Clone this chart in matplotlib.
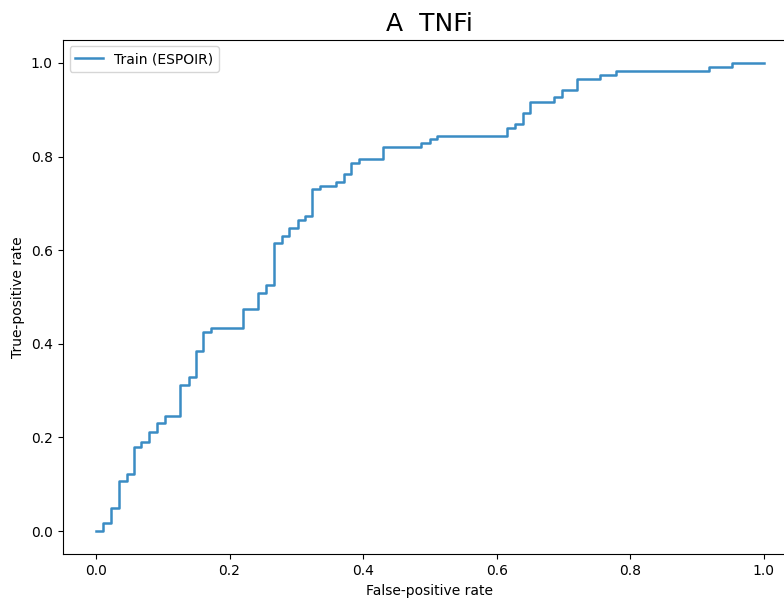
import matplotlib
matplotlib.use("Agg")
from matplotlib import pyplot as plt

# ROC corner points (jump x, new y)
fpr = [0.0, 0.010, 0.022, 0.034, 0.046, 0.057, 0.068, 0.080, 0.092, 0.104,
       0.126, 0.139, 0.150, 0.161, 0.173, 0.220, 0.243, 0.255, 0.266, 0.279,
       0.289, 0.302, 0.313, 0.324, 0.336, 0.359, 0.371, 0.382, 0.394, 0.430,
       0.487, 0.500, 0.511, 0.615, 0.627, 0.639, 0.650, 0.686, 0.698, 0.720,
       0.755, 0.779, 0.918, 0.953, 1.0]
tpr = [0.0, 0.017, 0.049, 0.107, 0.122, 0.180, 0.190, 0.212, 0.230, 0.246,
       0.312, 0.328, 0.385, 0.426, 0.434, 0.475, 0.509, 0.525, 0.615, 0.631,
       0.648, 0.665, 0.672, 0.730, 0.738, 0.746, 0.763, 0.787, 0.795, 0.820,
       0.828, 0.837, 0.844, 0.860, 0.870, 0.894, 0.917, 0.927, 0.942, 0.966,
       0.975, 0.982, 0.992, 1.0, 1.0]

fig = plt.figure(figsize=(7.84, 5.98), dpi=100)
ax = fig.add_axes([0.0798, 0.0729, 0.937, 0.861])
ax.step(fpr, tpr, where="post", color="#3a8cc4", linewidth=1.8, label="Train (ESPOIR)")
ax.set_xlim(-0.05, 1.05)
ax.set_ylim(-0.05, 1.05)
ax.set_xlabel("False-positive rate")
ax.set_ylabel("True-positive rate")
ax.set_title("A  TNFi", fontsize=18)
ax.legend(loc="upper left")
fig.savefig("out.png", dpi=100)
